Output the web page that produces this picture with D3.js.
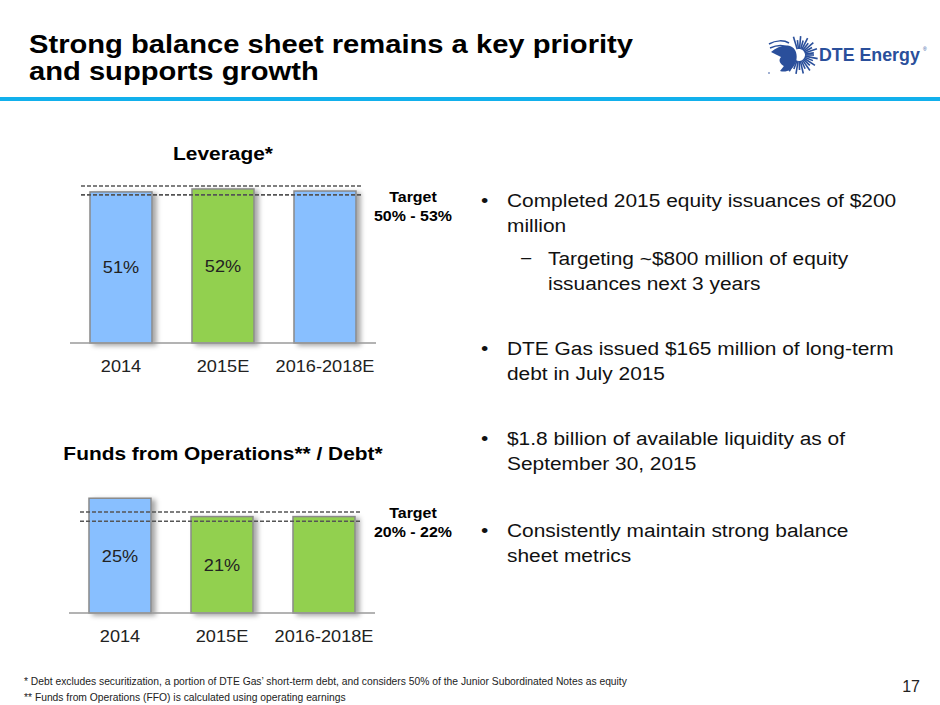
<!DOCTYPE html>
<html>
<head>
<meta charset="utf-8">
<script src="https://cdn.jsdelivr.net/npm/d3@7"></script>
<style>
  body { margin: 0; background: #fff; }
  svg { display: block; font-family: "Liberation Sans", Arial, Helvetica, sans-serif; }
</style>
</head>
<body>
<div id="slide"></div>
<script>
// chart data
const categories = ["2014", "2015E", "2016-2018E"];
const leverageValues = [51, 52, 51.3];
const leverageLabels = ["51%", "52%", ""];
const leverageTarget = [50, 53];
const ffoValues = [25, 21, 21];
const ffoLabels = ["25%", "21%", ""];
const ffoTarget = [20, 22];

const bullets = [
  { level: 0, lines: ["Completed 2015 equity issuances of $200", "million"], y: 207 },
  { level: 1, lines: ["Targeting ~$800 million of equity", "issuances next 3 years"], y: 265 },
  { level: 0, lines: ["DTE Gas issued $165 million of long-term", "debt in July 2015"], y: 355 },
  { level: 0, lines: ["$1.8 billion of available liquidity as of", "September 30, 2015"], y: 445 },
  { level: 0, lines: ["Consistently maintain strong balance", "sheet metrics"], y: 537 }
];

const BLUE = "#88bfff";
const GREEN = "#92d050";
const leverageFills = [BLUE, GREEN, BLUE];
const ffoFills = [BLUE, GREEN, GREEN];

const width = 940, height = 705;
const SX = 1.1; // slide text is a bit wider than Liberation Sans

const svg = d3.select("#slide").append("svg")
  .attr("width", width)
  .attr("height", height);

// text placed at (x, y) and stretched horizontally; lines become tspans
function label(parent, x, y, size, lines, lineH) {
  const t = parent.append("text")
    .attr("transform", `translate(${x},${y}) scale(${SX},1)`)
    .attr("font-size", size)
    .attr("fill", "#111");
  [].concat(lines).forEach((s, i) => {
    t.append("tspan").attr("x", 0).attr("y", i * (lineH || 0)).text(s);
  });
  return t;
}

const defs = svg.append("defs");
defs.append("filter")
  .attr("id", "shadow")
  .attr("x", "-20%").attr("y", "-10%")
  .attr("width", "150%").attr("height", "130%")
  .append("feDropShadow")
  .attr("dx", 4).attr("dy", 2)
  .attr("stdDeviation", 2.5)
  .attr("flood-color", "#000")
  .attr("flood-opacity", 0.35);

// header
label(svg, 29, 53, 26.5, ["Strong balance sheet remains a key priority", "and supports growth"], 27)
  .attr("font-weight", "bold").attr("fill", "#000");
svg.append("rect")
  .attr("x", 0).attr("y", 97).attr("width", width).attr("height", 4)
  .attr("fill", "#12b0ec");

// logo
const logo = svg.append("g");
const cx = 799, cy = 55;
d3.range(0, 360, 11).forEach(a => {
  if (a > 150 && a < 250) return;
  const r = (a / 11) % 2 ? 19 : 15;
  const rad = a * Math.PI / 180;
  logo.append("line")
    .attr("x1", cx + 6 * Math.cos(rad)).attr("y1", cy + 6 * Math.sin(rad))
    .attr("x2", cx + r * Math.cos(rad)).attr("y2", cy + r * Math.sin(rad))
    .attr("stroke", "#2a4f9b").attr("stroke-width", 1.6);
});
logo.append("path")
  .attr("d", "M771,52 C778,46 786,44 792,47 C797,50 798,58 795,64 C792,70 786,73 780,71 L784,66 C780,64 778,60 781,57 Z")
  .attr("fill", "#2a4f9b");
logo.append("path")
  .attr("d", "M769,44 C776,40 784,40 789,43 M770,48 C777,45 783,45 787,47")
  .attr("fill", "none").attr("stroke", "#2a4f9b").attr("stroke-width", 1.5);
logo.append("circle").attr("cx", 769).attr("cy", 73).attr("r", 0.8).attr("fill", "#2a4f9b");
logo.append("text")
  .attr("x", 819).attr("y", 61)
  .attr("font-size", 17.8).attr("font-weight", "bold").attr("fill", "#2a4f9b")
  .text("DTE Energy");
logo.append("text")
  .attr("x", 923).attr("y", 51)
  .attr("font-size", 5).attr("fill", "#2a4f9b")
  .text("®");

function barChart(opts) {
  const g = svg.append("g");
  const x = d3.scaleBand()
    .domain(categories)
    .range([opts.x0, opts.x1])
    .paddingInner(0.392)
    .paddingOuter(0.196);
  const y = d3.scaleLinear()
    .domain([0, opts.target[1]])
    .range([opts.base, opts.top]);

  label(g, 223, opts.titleY, 19, opts.title)
    .attr("text-anchor", "middle")
    .attr("font-weight", "bold").attr("fill", "#000");

  g.selectAll("rect.bar")
    .data(opts.values)
    .join("rect")
    .attr("class", "bar")
    .attr("x", (d, i) => x(categories[i]))
    .attr("y", d => y(d))
    .attr("width", x.bandwidth())
    .attr("height", d => y(0) - y(d))
    .attr("fill", (d, i) => opts.fills[i])
    .attr("stroke", "#8a8a8a")
    .attr("stroke-width", 1.5)
    .attr("filter", "url(#shadow)");

  g.append("line")
    .attr("x1", opts.x0).attr("x2", opts.x1)
    .attr("y1", y(0)).attr("y2", y(0))
    .attr("stroke", "#9a9a9a").attr("stroke-width", 1.5);

  g.selectAll("line.target")
    .data(opts.target)
    .join("line")
    .attr("class", "target")
    .attr("x1", opts.x0 + 11).attr("x2", opts.x1 - 13)
    .attr("y1", d => y(d)).attr("y2", d => y(d))
    .attr("stroke", "#555").attr("stroke-width", 1.6)
    .attr("stroke-dasharray", "4,2");

  opts.values.forEach((d, i) => {
    if (!opts.labels[i]) return;
    label(g, x(categories[i]) + x.bandwidth() / 2, (y(d) + y(0)) / 2 + 6, 16.5, opts.labels[i])
      .attr("text-anchor", "middle").attr("fill", "#222");
  });

  categories.forEach(c => {
    label(g, x(c) + x.bandwidth() / 2, y(0) + 29, 16.5, c)
      .attr("text-anchor", "middle").attr("fill", "#222");
  });

  label(g, 413, opts.targetY, 14.5,
    ["Target", `${opts.target[0]}% - ${opts.target[1]}%`], 19)
    .attr("text-anchor", "middle")
    .attr("font-weight", "bold").attr("fill", "#000");
}

barChart({
  title: "Leverage*", titleY: 160,
  values: leverageValues, labels: leverageLabels, fills: leverageFills,
  target: leverageTarget,
  x0: 70, x1: 376, base: 343, top: 186, targetY: 202
});

barChart({
  title: "Funds from Operations** / Debt*", titleY: 460,
  values: ffoValues, labels: ffoLabels, fills: ffoFills,
  target: ffoTarget,
  x0: 69, x1: 375, base: 613, top: 512, targetY: 518
});

// bullet text
bullets.forEach(b => {
  const bx = b.level ? 520 : 481;
  const tx = b.level ? 548 : 507;
  label(svg, bx, b.y, 19, b.level ? "\u2212" : "\u2022");
  label(svg, tx, b.y, 19, b.lines, 25);
});

// footnotes
const notes = svg.append("text")
  .attr("font-size", 10.3).attr("fill", "#222");
notes.append("tspan").attr("x", 24).attr("y", 685)
  .text("*  Debt excludes securitization, a portion of DTE Gas\u2019 short-term debt, and considers 50% of the Junior Subordinated Notes as equity");
notes.append("tspan").attr("x", 24).attr("y", 701)
  .text("** Funds from Operations (FFO) is calculated using operating earnings");
svg.append("text")
  .attr("x", 920).attr("y", 692)
  .attr("text-anchor", "end")
  .attr("font-size", 16).attr("fill", "#222")
  .text("17");
</script>
</body>
</html>
